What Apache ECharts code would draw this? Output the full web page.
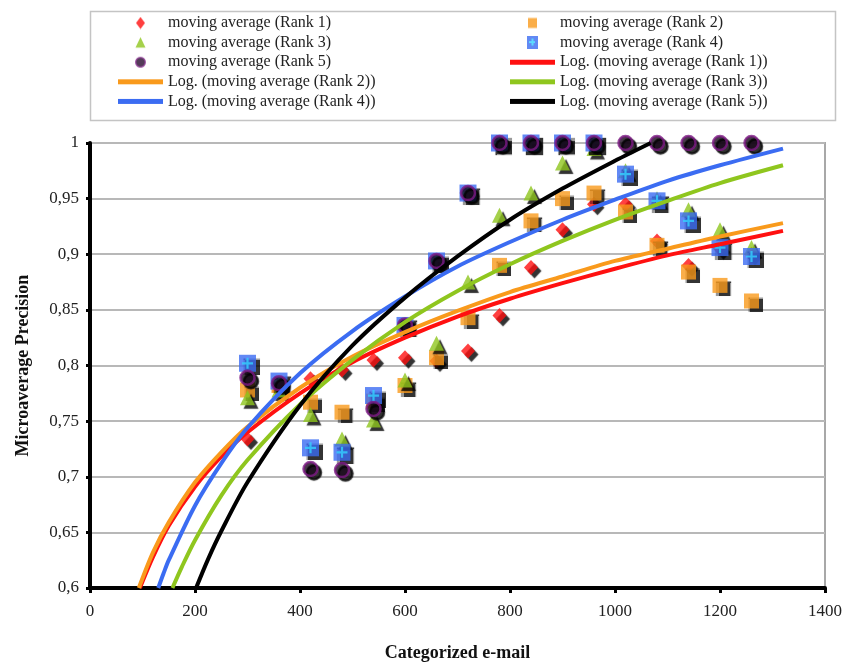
<!DOCTYPE html>
<html>
<head>
<meta charset="utf-8">
<script src="https://cdn.jsdelivr.net/npm/echarts@6/dist/echarts.min.js"></script>
<style>
html,body{margin:0;padding:0;background:#fff;}
#chart{width:848px;height:667px;}
</style>
</head>
<body>
<div id="chart"></div>
<script>
// ---- Data ----
const xEmails = [300,360,420,480,540,600,660,720,780,840,900,960,1020,1080,1140,1200,1260];
const rank1 = [0.734,0.777,0.788,0.796,0.805,0.807,0.804,0.813,0.845,0.888,0.922,0.945,0.945,0.912,0.890,0.905,0.900];
const rank2 = [0.778,0.782,0.767,0.758,0.768,0.782,0.807,0.843,0.890,0.930,0.950,0.955,0.938,0.908,0.884,0.872,0.858];
const rank3 = [0.771,0.778,0.756,0.734,0.751,0.787,0.820,0.875,0.935,0.955,0.982,0.995,0.975,0.950,0.940,0.922,0.906];
const rank4 = [0.802,0.786,0.726,0.722,0.773,0.836,0.894,0.955,1.000,1.000,1.000,1.000,0.972,0.948,0.930,0.906,0.898];
const rank5 = [0.789,0.784,0.707,0.706,0.761,0.836,0.894,0.955,1.000,1.000,1.000,1.000,1.000,1.000,1.000,1.000,1.000];

// Logarithmic trend lines
const trend1X = [95,120,150,200,250,300,400,500,600,700,800,900,1000,1100,1200,1320];
const trend1Y = [0.600,0.628,0.656,0.691,0.718,0.740,0.775,0.803,0.825,0.844,0.860,0.874,0.887,0.899,0.909,0.921];
const trend2X = [93,120,150,200,250,300,400,500,600,700,800,900,1000,1100,1200,1320];
const trend2Y = [0.600,0.632,0.659,0.695,0.722,0.745,0.780,0.808,0.830,0.849,0.866,0.880,0.894,0.905,0.916,0.928];
const trend3X = [157,175,200,250,300,400,500,600,700,800,900,1000,1100,1200,1320];
const trend3Y = [0.600,0.619,0.643,0.683,0.715,0.765,0.805,0.839,0.867,0.891,0.912,0.931,0.948,0.964,0.980];
const trend4X = [130,140,150,200,250,300,400,500,600,700,800,900,1000,1100,1200,1320];
const trend4Y = [0.600,0.613,0.625,0.674,0.712,0.744,0.793,0.831,0.862,0.889,0.911,0.931,0.949,0.966,0.980,0.995];
const trend5X = [202,225,250,300,400,500,600,700,800,900,1000,1068];
const trend5Y = [0.600,0.626,0.651,0.695,0.764,0.818,0.861,0.898,0.931,0.959,0.984,1.000];

const yTickLabels = ['0,6','0,65','0,7','0,75','0,8','0,85','0,9','0,95','1'];
const xTickLabels = ['0','200','400','600','800','1000','1200','1400'];

const names = {
  m1:'moving average (Rank 1)', m2:'moving average (Rank 2)', m3:'moving average (Rank 3)',
  m4:'moving average (Rank 4)', m5:'moving average (Rank 5)',
  l1:'Log. (moving average (Rank 1))', l2:'Log. (moving average (Rank 2))', l3:'Log. (moving average (Rank 3))',
  l4:'Log. (moving average (Rank 4))', l5:'Log. (moving average (Rank 5))'
};

const C = {red:'#ff1010', orange:'#f99a1c', green:'#8fc61e', blue:'#3b6cf2', cyan:'#35d2ff', purple:'#7d1a84', black:'#000'};

function pairs(xs, ys){ return xs.map((x,i)=>[x, ys[i]]); }

const shadow = {shadowColor:'#000', shadowBlur:1, shadowOffsetX:3.5, shadowOffsetY:3.5};

// ---- legend icons drawn on small canvases (45 x 13 boxes at 2x) ----
const IW = 45, IH = 13, S = 2;
function icon(draw){
  const c = document.createElement('canvas'); c.width = IW*S; c.height = IH*S;
  const g = c.getContext('2d'); g.scale(S,S);
  draw(g, IW/2, IH/2);
  return 'image://' + c.toDataURL();
}
const icons = {
  m1: icon((g,cx,cy)=>{ g.fillStyle=C.red; g.beginPath(); g.moveTo(cx,cy-6); g.lineTo(cx+4.5,cy); g.lineTo(cx,cy+6); g.lineTo(cx-4.5,cy); g.closePath(); g.fill(); }),
  m2: icon((g,cx,cy)=>{ g.fillStyle=C.orange; g.fillRect(cx-4.5,cy-5,9,10); }),
  m3: icon((g,cx,cy)=>{ g.fillStyle=C.green; g.beginPath(); g.moveTo(cx,cy-5.5); g.lineTo(cx+5,cy+5); g.lineTo(cx-5,cy+5); g.closePath(); g.fill(); }),
  m4: icon((g,cx,cy)=>{ g.fillStyle=C.blue; g.fillRect(cx-5.5,cy-6.5,11,13); g.fillStyle=C.cyan; g.fillRect(cx-1,cy-4,2,7); g.fillRect(cx-3.5,cy-1.5,6,2); }),
  m5: icon((g,cx,cy)=>{ g.fillStyle='#2a0a30'; g.strokeStyle=C.purple; g.lineWidth=1.2; g.beginPath(); g.arc(cx,cy,4.8,0,Math.PI*2); g.fill(); g.stroke(); }),
  line: (col)=>icon((g,cx,cy)=>{ g.fillStyle=col; g.fillRect(0,cy-2.5,IW,5); })
};

const chart = echarts.init(document.getElementById('chart'), null, {renderer:'canvas'});

const scatterBase = {type:'scatter', z:3};
const lineBase = {type:'line', showSymbol:false, symbol:'none', smooth:0.3, z:4, clip:true};

const legendText = {fontFamily:'Liberation Serif', fontSize:16, color:'#222'};
const legendCommon = {orient:'vertical', top:10, itemGap:3.6, itemWidth:IW, itemHeight:IH,
  textStyle:legendText, selectedMode:false};

const option = {
  animation:false,
  backgroundColor:'#fff',
  graphic:[{
    type:'rect', left:88, top:9, shape:{width:745, height:109},
    style:{fill:'none', stroke:'#c4c4c4', lineWidth:1.5}, z:-1
  }],
  legend:[
    Object.assign({}, legendCommon, {left:113,
      data:[{name:names.m1, icon:icons.m1},{name:names.m3, icon:icons.m3},{name:names.m5, icon:icons.m5},
            {name:names.l2, icon:icons.line(C.orange)},{name:names.l4, icon:icons.line(C.blue)}]}),
    Object.assign({}, legendCommon, {left:505,
      data:[{name:names.m2, icon:icons.m2},{name:names.m4, icon:icons.m4},{name:names.l1, icon:icons.line(C.red)},
            {name:names.l3, icon:icons.line(C.green)},{name:names.l5, icon:icons.line(C.black)}]})
  ],
  grid:{left:90, right:23, top:143, bottom:74, show:true, borderColor:'#a8a8a8', borderWidth:2, backgroundColor:'#fff'},
  xAxis:{
    type:'value', min:0, max:1400, interval:200,
    name:'Categorized e-mail', nameLocation:'middle', nameGap:56,
    nameTextStyle:{fontFamily:'Liberation Serif', fontSize:18, fontWeight:'bold', color:'#111'},
    axisLine:{show:true, onZero:false, lineStyle:{color:'#000', width:4}},
    axisTick:{show:true, length:5, lineStyle:{color:'#000', width:3}},
    axisLabel:{margin:15, fontFamily:'Liberation Serif', fontSize:17, color:'#222',
      formatter:(v)=>xTickLabels[Math.round(v/200)]},
    splitLine:{show:false}
  },
  yAxis:{
    type:'value', min:0.6, max:1, interval:0.05,
    name:'Microaverage Precision', nameLocation:'middle', nameGap:58,
    nameTextStyle:{fontFamily:'Liberation Serif', fontSize:18, fontWeight:'bold', color:'#111'},
    axisLine:{show:true, onZero:false, lineStyle:{color:'#000', width:4}},
    axisTick:{show:true, length:4, lineStyle:{color:'#000', width:3}},
    axisLabel:{margin:11, fontFamily:'Liberation Serif', fontSize:17, color:'#222',
      formatter:(v)=>yTickLabels[Math.round((v-0.6)/0.05)]},
    splitLine:{show:true, lineStyle:{color:'#b8b8b8', width:2}}
  },
  series:[
    Object.assign({}, scatterBase, {name:names.m1, data:pairs(xEmails, rank1), symbol:'diamond', symbolSize:[14,15],
      itemStyle:Object.assign({color:C.red}, shadow)}),
    Object.assign({}, scatterBase, {name:names.m2, data:pairs(xEmails, rank2), symbol:'rect', symbolSize:15,
      itemStyle:Object.assign({color:C.orange}, shadow)}),
    Object.assign({}, scatterBase, {name:names.m3, data:pairs(xEmails, rank3), symbol:'triangle', symbolSize:[15,15],
      itemStyle:Object.assign({color:C.green}, shadow)}),
    Object.assign({}, scatterBase, {name:names.m4, data:pairs(xEmails, rank4), symbol:'rect', symbolSize:17,
      itemStyle:Object.assign({color:C.blue}, shadow)}),
    Object.assign({}, scatterBase, {name:'rank4cross', data:pairs(xEmails, rank4),
      symbol:'path://M4,0H6V4H10V6H6V10H4V6H0V4H4Z', symbolSize:11, silent:true,
      itemStyle:{color:C.cyan}}),
    Object.assign({}, scatterBase, {name:names.m5, data:pairs(xEmails, rank5), symbol:'circle', symbolSize:14,
      itemStyle:Object.assign({color:'#1c0a1e', borderColor:C.purple, borderWidth:2.5}, shadow)}),
    Object.assign({}, lineBase, {name:names.l1, data:pairs(trend1X, trend1Y), lineStyle:{color:C.red, width:4}, itemStyle:{color:C.red}}),
    Object.assign({}, lineBase, {name:names.l2, data:pairs(trend2X, trend2Y), lineStyle:{color:C.orange, width:4}, itemStyle:{color:C.orange}}),
    Object.assign({}, lineBase, {name:names.l3, data:pairs(trend3X, trend3Y), lineStyle:{color:C.green, width:4}, itemStyle:{color:C.green}}),
    Object.assign({}, lineBase, {name:names.l4, data:pairs(trend4X, trend4Y), lineStyle:{color:C.blue, width:4}, itemStyle:{color:C.blue}}),
    Object.assign({}, lineBase, {name:names.l5, data:pairs(trend5X, trend5Y), lineStyle:{color:C.black, width:4}, itemStyle:{color:C.black}})
  ]
};
chart.setOption(option);
</script>
</body>
</html>
